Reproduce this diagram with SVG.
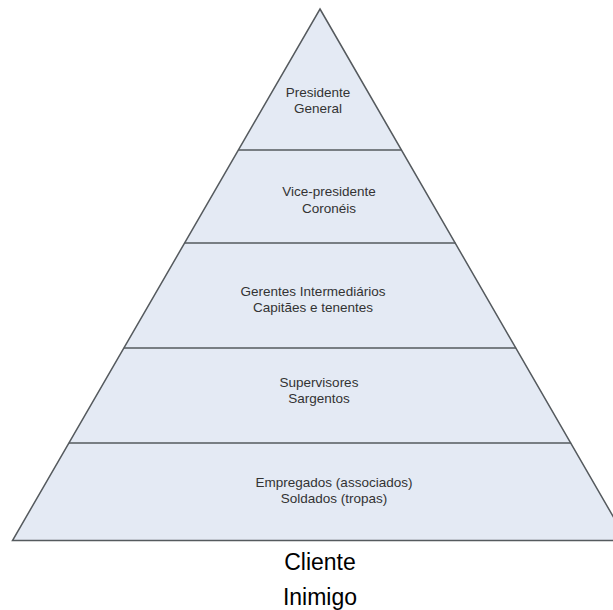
<svg xmlns="http://www.w3.org/2000/svg" width="613" height="610" viewBox="0 0 613 610">
<style>
.band{fill:#e4eaf4;stroke:none}
.lbl{font-family:"Liberation Sans",Arial,sans-serif;font-size:13.5px;fill:#333;text-anchor:middle}
.edge{stroke:#555a5e;stroke-width:1.5;fill:none}
.foot{font-family:"Liberation Sans",Arial,sans-serif;font-size:23px;fill:#000;text-anchor:middle}
</style>
<rect width="613" height="610" fill="#fff"/>
<g id="level1">
<polygon class="band" points="320,9 238.4,150 401.6,150"/>
<text class="lbl" x="318" y="97">Presidente</text>
<text class="lbl" x="318" y="113">General</text>
</g>
<g id="level2">
<polygon class="band" points="238.4,150 401.6,150 455.4,243 184.6,243"/>
<text class="lbl" x="329" y="196">Vice-presidente</text>
<text class="lbl" x="329" y="213">Coronéis</text>
</g>
<g id="level3">
<polygon class="band" points="184.6,243 455.4,243 516.1,348 123.9,348"/>
<text class="lbl" x="313" y="296">Gerentes Intermediários</text>
<text class="lbl" x="313" y="312">Capitães e tenentes</text>
</g>
<g id="level4">
<polygon class="band" points="123.9,348 516.1,348 571.1,443 68.9,443"/>
<text class="lbl" x="319" y="387">Supervisores</text>
<text class="lbl" x="319" y="403">Sargentos</text>
</g>
<g id="level5">
<polygon class="band" points="68.9,443 571.1,443 627,540.5 12.5,540.5"/>
<text class="lbl" x="334" y="487">Empregados (associados)</text>
<text class="lbl" x="334" y="503">Soldados (tropas)</text>
</g>
<g id="connectors">
<polygon class="edge" points="320,9 627,540.5 12.5,540.5"/>
<line class="edge" x1="238.4" y1="150" x2="401.6" y2="150"/>
<line class="edge" x1="184.6" y1="243" x2="455.4" y2="243"/>
<line class="edge" x1="123.9" y1="348" x2="516.1" y2="348"/>
<line class="edge" x1="68.9" y1="443" x2="571.1" y2="443"/>
</g>
<g id="footer">
<text class="foot" x="320" y="570">Cliente</text>
<text class="foot" x="320" y="605">Inimigo</text>
</g>
</svg>
